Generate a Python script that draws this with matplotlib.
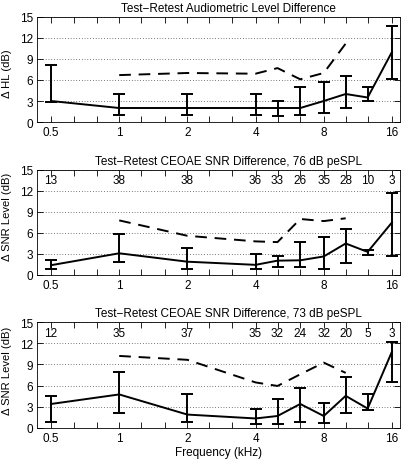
import numpy as np
import matplotlib
matplotlib.use('Agg')
import matplotlib.pyplot as plt
from matplotlib.ticker import FixedLocator, NullFormatter, FixedFormatter

plt.rcParams['font.family'] = ['Liberation Sans', 'DejaVu Sans']

freq = [0.5, 1, 2, 4, 5, 6.3, 8, 10, 12.5, 16]
dash_freq = [1, 2, 4, 5, 6.3, 8, 10]

# panel 1: audiometric level difference
hl_mean = [3.0, 2.0, 2.0, 2.0, 2.0, 2.0, 3.0, 4.0, 3.5, 10.0]
hl_lo = [2.8, 1.0, 1.0, 1.0, 0.8, 1.0, 1.3, 2.0, 3.0, 6.2]
hl_hi = [8.2, 4.0, 4.0, 4.0, 3.0, 5.0, 5.7, 6.5, 5.0, 13.7]
hl_dash = [6.7, 7.0, 6.9, 7.7, 6.1, 7.0, 11.2]

# panel 2: CEOAE SNR difference, 76 dB peSPL
s76_mean = [1.4, 3.1, 1.9, 1.45, 2.05, 2.1, 2.65, 4.5, 3.3, 7.5]
s76_lo = [0.9, 1.8, 0.9, 0.9, 1.1, 1.1, 0.9, 1.7, 2.9, 2.65]
s76_hi = [2.15, 5.85, 3.85, 3.05, 2.7, 4.65, 5.4, 6.5, 3.6, 11.7]
s76_dash = [7.8, 5.6, 4.8, 4.7, 8.0, 7.7, 8.1]
s76_n = ['13', '38', '38', '36', '33', '26', '35', '28', '10', '3']

# panel 3: CEOAE SNR difference, 73 dB peSPL
s73_mean = [3.4, 4.75, 1.9, 1.35, 1.7, 3.4, 1.7, 4.55, 2.75, 10.8]
s73_lo = [0.9, 2.15, 0.9, 0.6, 0.6, 0.8, 0.7, 2.1, 2.6, 6.55]
s73_hi = [4.5, 7.9, 4.8, 2.7, 4.1, 5.6, 3.6, 7.2, 4.85, 12.2]
s73_dash = [10.2, 9.65, 6.45, 5.95, 7.6, 9.25, 7.8]
s73_n = ['12', '35', '37', '35', '32', '24', '32', '20', '5', '3']

titles = ['Test\u2212Retest Audiometric Level Difference',
          'Test\u2212Retest CEOAE SNR Difference, 76 dB peSPL',
          'Test\u2212Retest CEOAE SNR Difference, 73 dB peSPL']
ylabels = ['\u0394 HL (dB)', '\u0394 SNR Level (dB)', '\u0394 SNR Level (dB)']

xticks = [0.5, 1, 2, 4, 8, 16]
xticklabels = ['0.5', '1', '2', '4', '8', '16']
third_oct = [0.5, 0.63, 0.8, 1, 1.25, 1.6, 2, 2.5, 3.15, 4, 5, 6.3, 8, 10, 12.5, 16]

fig = plt.figure(figsize=(4.06, 4.60), dpi=100)
boxes = [[0.0911, 0.7326, 0.894, 0.2283],
         [0.0911, 0.4000, 0.894, 0.2283],
         [0.0911, 0.0674, 0.894, 0.2304]]
ylab_y = [0.47, 0.56, 0.55]

data = [(hl_mean, hl_lo, hl_hi, hl_dash, None),
        (s76_mean, s76_lo, s76_hi, s76_dash, s76_n),
        (s73_mean, s73_lo, s73_hi, s73_dash, s73_n)]

for k in range(3):
    ax = fig.add_axes(boxes[k])
    m, lo, hi, dsh, nn = data[k]
    m = np.array(m)
    yerr = [m - np.array(lo), np.array(hi) - m]
    ax.errorbar(freq, m, yerr=yerr, color='k', lw=1.4, elinewidth=1.4,
                capsize=4.5, capthick=1.4)
    ax.plot(dash_freq, dsh, color='k', lw=1.4, ls=(0, (6, 4)))
    if nn is not None:
        for f, s in zip(freq, nn):
            ax.text(f, 13.5, s, ha='center', va='center', fontsize=8.5)
    ax.set_xscale('log')
    ax.set_xlim(0.4335, 17.36)
    ax.set_ylim(0, 15)
    ax.set_yticks([0, 3, 6, 9, 12, 15])
    ax.xaxis.set_major_locator(FixedLocator(xticks))
    ax.xaxis.set_major_formatter(FixedFormatter(xticklabels))
    ax.xaxis.set_minor_locator(FixedLocator(third_oct))
    ax.xaxis.set_minor_formatter(NullFormatter())
    ax.tick_params(which='both', direction='in', top=True, right=True,
                   labelsize=8.5, width=0.6, pad=3)
    ax.tick_params(which='major', length=4)
    ax.tick_params(which='minor', length=4)
    ax.yaxis.grid(True, ls=(0, (1, 3)), color='k', lw=0.5)
    for sp in ax.spines.values():
        sp.set_linewidth(0.6)
    ax.set_title(titles[k], fontsize=8.5, pad=4, x=0.527)
    ax.set_ylabel(ylabels[k], fontsize=8.1)
    ax.yaxis.set_label_coords(-0.07, ylab_y[k])
    if k == 2:
        ax.set_xlabel('Frequency (kHz)', fontsize=8.5, labelpad=1)

fig.savefig('out.png', dpi=100)
